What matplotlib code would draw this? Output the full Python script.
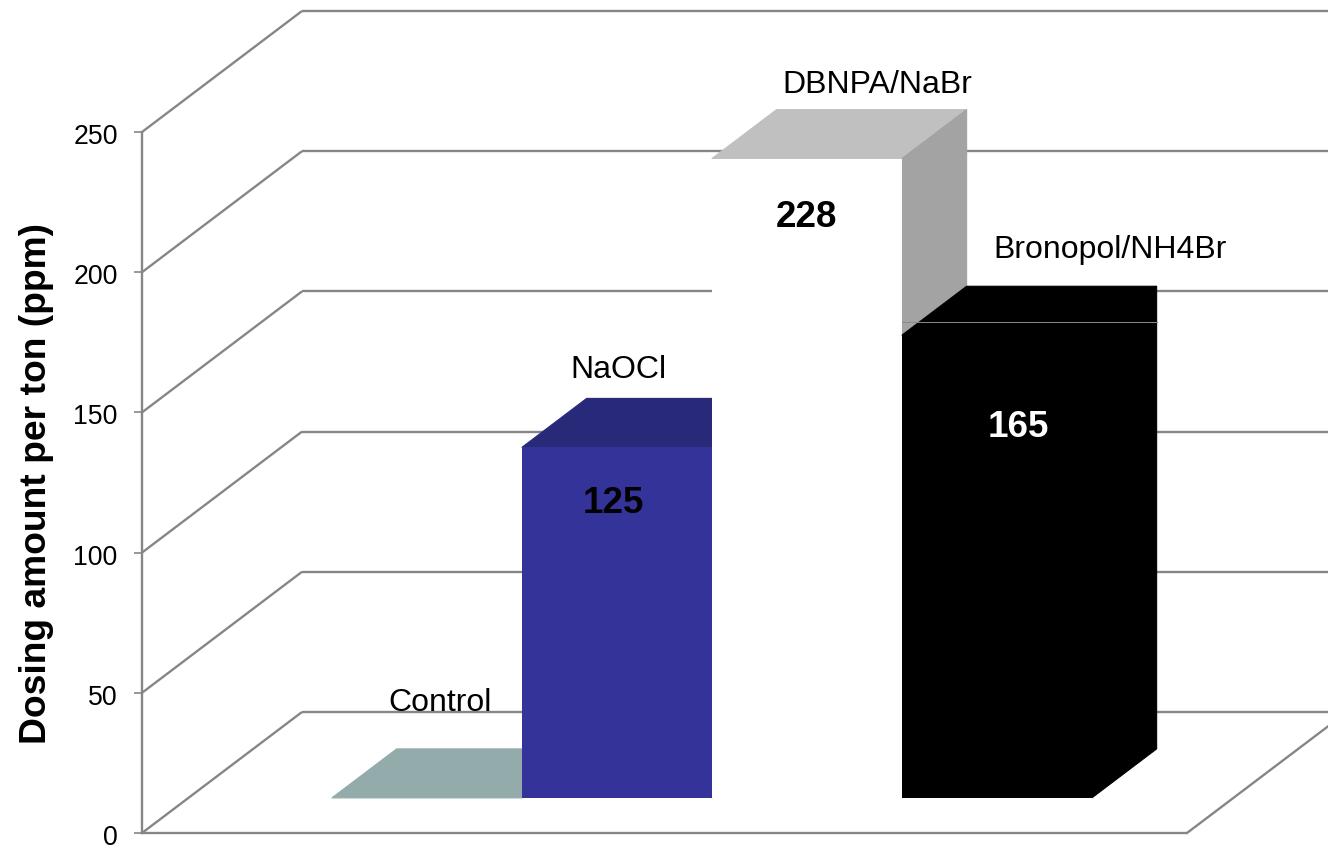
import matplotlib
matplotlib.use('Agg')
import matplotlib.pyplot as plt
from matplotlib.transforms import ScaledTranslation

plt.rcParams['font.family'] = ['Liberation Sans', 'DejaVu Sans']

# values
names = ['Control', 'NaOCl', 'DBNPA/NaBr', 'Bronopol/NH4Br']
values = [0, 125, 228, 165]
value_text = ['', '125', '228', '165']
ticks = [0, 50, 100, 150, 200, 250]
ylabel = 'Dosing amount per ton (ppm)'

# colours: front, top, side, value label
fronts = ['#93ABAB', '#333399', '#FFFFFF', '#000000']
tops = ['#93ABAB', '#29297A', '#C0C0C0', '#000000']
sides = ['#7A9090', '#1F1F5C', '#A3A3A3', '#000000']
text_cols = ['black', 'black', 'black', 'white']
grid = '#868686'

# pixel offsets for the hand placed labels
name_off = [(13, 95), (2, 77), (70, 74), (113, 85)]
value_off = [(0, 0), (-4, -56), (0, -59), (21, -92)]

# oblique projection: depth 0 is the front plane, depth 1 the back wall
dx = 0.842
dy = 43.15
d_front = 0.29
d_back = 0.695
floor_end = 5.5
first_bar = 0.755

fig = plt.figure(figsize=(13.28, 8.46), dpi=100)
ax = fig.add_axes([142 / 1328.0, 13 / 846.0, 1186 / 1328.0, 833 / 846.0])
ax.set_xlim(0, 1186 / 190.0)
ax.set_ylim(0, 833 / 2.804)


def proj(u, v, d):
	return u + d * dx, v + d * dy


def wall_line(p0, p1):
	ax.plot([p0[0], p1[0]], [p0[1], p1[1]], color=grid, lw=1.7, zorder=1, solid_capstyle='butt')


########################################################################################################
# walls and floor
xmax = ax.get_xlim()[1]
for t in ticks:
	wall_line(proj(0, t, 0), proj(0, t, 1))
	wall_line(proj(0, t, 1), proj(xmax, t, 1))
wall_line(proj(floor_end, 0, 0), proj(floor_end, 0, 1))

########################################################################################################
# bars, left to right so each one covers the side of the one before
for i in range(len(values)):
	u0 = first_bar + i
	u1 = u0 + 1
	v = values[i]
	z = 2 + i
	fx, fy = proj(u0, 0, d_front)
	ax.bar(fx, v, width=1, bottom=fy, align='edge', color=fronts[i], lw=0, zorder=z + 0.2)
	top = [proj(u0, v, d_front), proj(u0, v, d_back), proj(u1, v, d_back), proj(u1, v, d_front)]
	ax.fill([p[0] for p in top], [p[1] for p in top], facecolor=tops[i], edgecolor=tops[i], lw=0.8, zorder=z)
	if v > 0:
		side = [proj(u1, 0, d_front), proj(u1, 0, d_back), proj(u1, v, d_back), proj(u1, v, d_front)]
		ax.fill([p[0] for p in side], [p[1] for p in side], facecolor=sides[i], edgecolor=sides[i], lw=0.8, zorder=z)
	cx = fx + 0.5
	cy = fy + v
	ax.annotate(names[i], (cx, cy), xytext=name_off[i], textcoords='offset pixels',
		ha='center', va='center', fontsize=23, color='black', zorder=10)
	if value_text[i] != '':
		ax.annotate(value_text[i], (cx, cy), xytext=value_off[i], textcoords='offset pixels',
			ha='center', va='center', fontsize=26.5, fontweight='bold', color=text_cols[i], zorder=10)

# hairline that runs through the black bar
last = first_bar + len(values) - 1
hx0 = proj(last, 0, d_front)[0]
hx1 = proj(last + 1, 0, d_back)[0]
hy = values[-1] + d_front * dy + 4.7
ax.plot([hx0, hx1], [hy, hy], color='#8C8C8C', lw=0.7, zorder=9)

########################################################################################################
# axis
for s in ['top', 'right']:
	ax.spines[s].set_visible(False)
ax.spines['left'].set_bounds(0, ticks[-1])
ax.spines['bottom'].set_bounds(0, floor_end)
ax.spines['left'].set_color(grid)
ax.spines['bottom'].set_color(grid)
ax.spines['left'].set_linewidth(1.7)
ax.spines['bottom'].set_linewidth(1.7)
ax.set_xticks([])
ax.set_yticks(ticks)
ax.tick_params(axis='y', length=5.5, width=1.2, color=grid, labelsize=19.2, pad=12)
shift = ScaledTranslation(0, -2 / 100.0, fig.dpi_scale_trans)
for lab in ax.get_yticklabels():
	lab.set_transform(lab.get_transform() + shift)
ax.set_ylabel(ylabel, fontsize=26.8, fontweight='bold', va='center')
ax.yaxis.set_label_coords(-105 / 1186.0, (833 - 483) / 833.0)
ax.patch.set_alpha(0)

plt.savefig('out.png', dpi=100)
